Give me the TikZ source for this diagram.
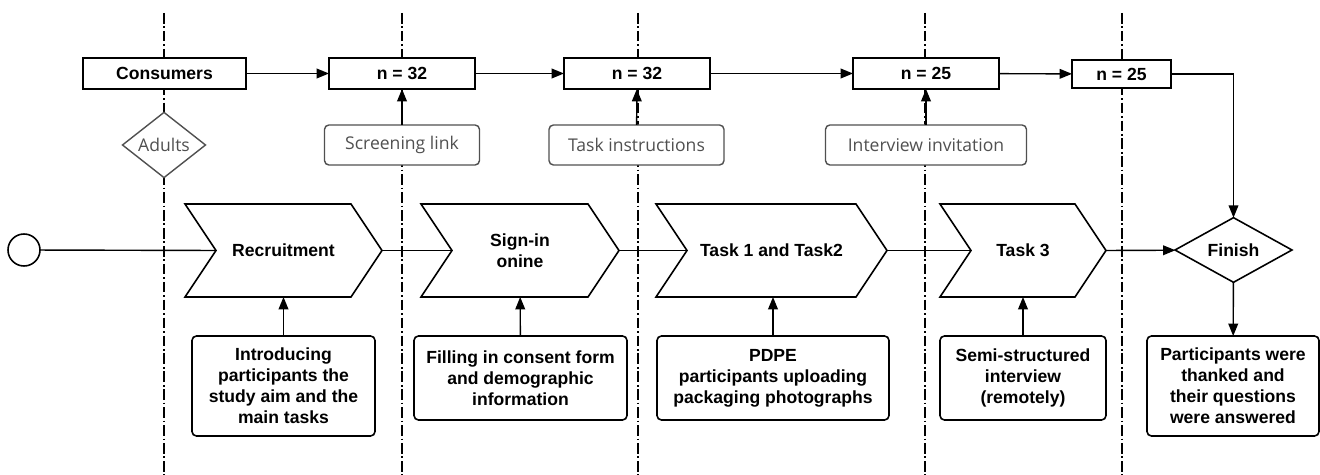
\documentclass[tikz,border=0pt]{standalone}
\usepackage{fontspec}
\setmainfont{Liberation Sans}
\newfontfamily\notefont{Open Sans}
\usetikzlibrary{shapes.geometric,arrows.meta}

\definecolor{notegray}{HTML}{505050}

\tikzset{
    lane/.style={line width=0.6pt, dash pattern=on 6pt off 1.6pt on 1pt off 1.6pt},
    link/.style={line width=0.8pt},
    arr/.style={link, -{Triangle[length=7pt,width=5.5pt]}},
    countbox/.style={draw, fill=white, line width=0.9pt, font=\bfseries,
        minimum width=2.92cm, minimum height=0.62cm, inner sep=0pt, outer sep=0pt},
    notebox/.style={draw=notegray, fill=white, line width=0.8pt, rounded corners=2.5pt,
        text=notegray, font=\notefont, minimum height=0.8cm, inner sep=0pt, outer sep=0pt},
    stagebox/.style={inner sep=0pt, outer sep=0pt, minimum height=1.86cm,
        font=\bfseries, align=center},
    stageline/.style={draw, fill=white, line width=0.9pt, line join=miter},
    infobox/.style={draw, fill=white, line width=0.9pt, rounded corners=2.5pt,
        font=\bfseries, align=center, minimum height=1.68cm, inner sep=0pt, outer sep=0pt},
    decision/.style={diamond, draw, fill=white, inner sep=0pt, outer sep=0pt},
}

% chevron outline around a stage node
\def\Notch{0.62cm}
\newcommand{\stageshape}[1]{%
    \draw[stageline] (#1.north west) -- ([xshift=-\Notch]#1.north east) -- (#1.east)
        -- ([xshift=-\Notch]#1.south east) -- (#1.south west) -- ([xshift=\Notch]#1.west) -- cycle;
    \coordinate (#1-in) at ([xshift=\Notch]#1.west);
}

\begin{document}
\begin{tikzpicture}[x=0.02cm, y=-0.02cm]

\useasboundingbox (0,0) rectangle (1320,475);

% Draw the lanes
\foreach \lx in {164,402,638,925,1122} {
    \draw[lane] (\lx,13) -- (\lx,475);
}

% Top row: numbers of participants
\node[countbox, minimum width=3.26cm] (consumers) at (164.5,73.5) {Consumers};
\node[countbox] (count1) at (402,73.5) {n = 32};
\node[countbox] (count2) at (637,73.5) {n = 32};
\node[countbox] (count3) at (926,73.5) {n = 25};
\node[countbox, minimum width=1.98cm, minimum height=0.56cm] (count4) at (1121.5,74) {n = 25};

\draw[arr] (consumers) -- (count1);
\draw[arr] (count1) -- (count2);
\draw[arr] (count2) -- (count3);
\draw[arr] (count3) -- (count4);

% Second row: gray notes
\node[decision, draw=notegray, line width=0.8pt, text=notegray, font=\notefont,
      minimum width=1.66cm, minimum height=1cm] (adults) at (164,145) {Adults};
\node[notebox, minimum width=3.1cm] (screen) at (402,145) {Screening link};
\node[notebox, minimum width=3.5cm] (instr) at (636.5,145) {Task instructions};
\node[notebox, minimum width=4.02cm] (invite) at (926,145) {Interview invitation};

\draw[arr] (screen) -- (count1);
\draw[arr] (instr) -- (count2);
\draw[arr] (invite) -- (count3);

% Middle row: stages
\node[draw, circle, line width=0.9pt, minimum size=0.64cm, inner sep=0pt, outer sep=0pt] (start) at (24,250) {};

\node[stagebox, minimum width=3.94cm] (recruit) at (283.5,250.5) {};
\stageshape{recruit}
\node at (recruit) [font=\bfseries] {Recruitment};

\node[stagebox, minimum width=3.96cm] (signin) at (520,250.5) {};
\stageshape{signin}
\node at (signin) [font=\bfseries, align=center] {Sign-in\\onine};

\node[stagebox, minimum width=4.62cm] (tasks) at (771.5,250.5) {};
\stageshape{tasks}
\node at (tasks) [font=\bfseries] {Task 1 and Task2};

\node[stagebox, minimum width=3.32cm] (task3) at (1023,250.5) {};
\stageshape{task3}
\node at (task3) [font=\bfseries] {Task 3};

\node[decision, line width=0.9pt, font=\bfseries, minimum width=2.34cm, minimum height=1.22cm] (finish) at (1233.5,250) {Finish};

\draw[link] (start) -- (recruit-in);
\draw[link] (recruit.east) -- (signin-in);
\draw[link] (signin.east) -- (tasks-in);
\draw[link] (tasks.east) -- (task3-in);
\draw[arr] (task3.east) -- (finish);
\draw[arr] (count4.east) -| (finish.north);

% Bottom row: what happened at each stage
\node[infobox, minimum width=3.66cm, minimum height=2cm] (intro) at (283.5,386)
    {Introducing\\participants the\\study aim and the\\main tasks};
\node[infobox, minimum width=4.26cm] (consent) at (520.5,378)
    {Filling in consent form\\and demographic\\information};
\node[infobox, minimum width=4.64cm] (pdpe) at (773,378)
    {PDPE\\participants uploading\\packaging photographs};
\node[infobox, minimum width=3.32cm] (interview) at (1023,378)
    {Semi-structured\\interview\\(remotely)};
\node[infobox, minimum width=3.44cm, minimum height=2cm] (thanks) at (1233,386)
    {Participants were\\thanked and\\their questions\\were answered};

\draw[arr] (intro) -- (recruit);
\draw[arr] (consent) -- (signin);
\draw[arr] (pdpe.north) -- (pdpe.north |- tasks.south);
\draw[arr] (interview) -- (task3);
\draw[arr] (finish) -- (thanks);

\end{tikzpicture}
\end{document}
